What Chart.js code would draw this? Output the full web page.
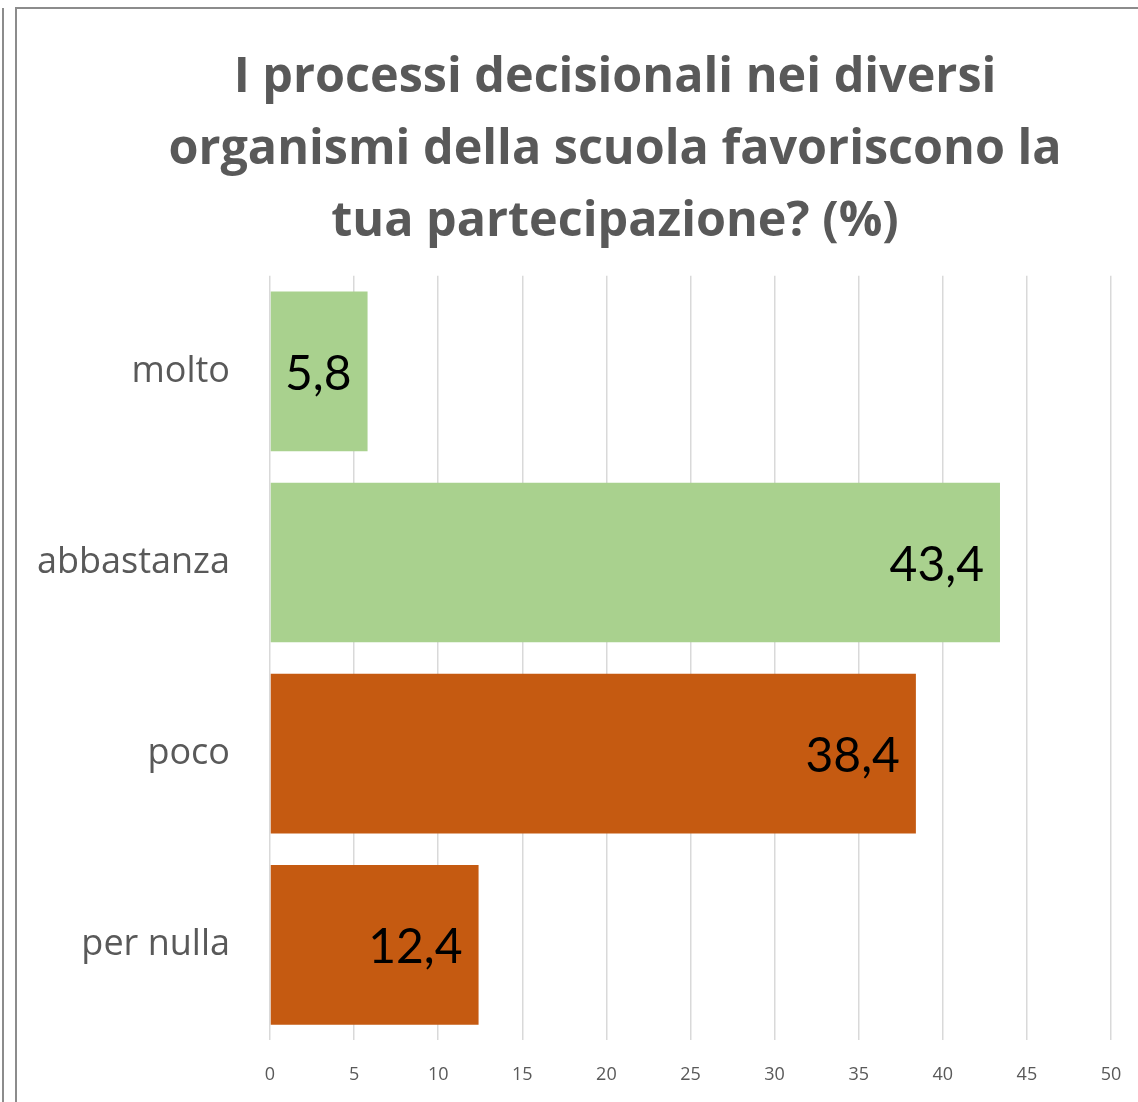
<!DOCTYPE html>
<html>
<head>
<meta charset="utf-8">
<script src="https://cdn.jsdelivr.net/npm/chart.js@4/dist/chart.umd.min.js"></script>
<style>
  html, body { margin: 0; padding: 0; width: 1138px; height: 1102px; overflow: hidden; background: #fff; }
  .edge { position: absolute; left: 2px; top: 8px; width: 2px; height: 1200px; background: #8c8c8c; }
  .box { position: absolute; left: 15px; top: 7px; width: 1300px; height: 1300px; border: 2px solid #8c8c8c; }
  .wrap { position: absolute; left: 18px; top: 10px; width: 1194px; height: 1092px; }
  canvas { display: block; }
</style>
</head>
<body>
<div class="edge"></div>
<div class="box"></div>
<div class="wrap"><canvas id="chart" width="1194" height="1092"></canvas></div>
<script>
  // values (percent)
  const categories = ['molto', 'abbastanza', 'poco', 'per nulla'];
  const values = [5.8, 43.4, 38.4, 12.4];
  const barColors = ['#a9d18e', '#a9d18e', '#c55a11', '#c55a11'];
  const titleLines = ['I processi decisionali nei diversi', 'organismi della scuola favoriscono la', 'tua partecipazione? (%)'];
  const xTicks = [0, 5, 10, 15, 20, 25, 30, 35, 40, 45, 50];

  const GREY = '#595959';
  const fmtIt = (v) => v.toFixed(1).replace('.', ',');

  // value labels at the inside end of each bar (no datalabels plugin here)
  const insideEndLabels = {
    id: 'insideEndLabels',
    afterDatasetsDraw(chart) {
      const { ctx } = chart;
      const meta = chart.getDatasetMeta(0);
      ctx.save();
      ctx.font = '48px Lato, "Open Sans", sans-serif';
      ctx.fillStyle = '#000';
      ctx.textAlign = 'right';
      ctx.textBaseline = 'middle';
      meta.data.forEach((bar, i) => {
        ctx.fillText(fmtIt(values[i]), bar.x - 16, bar.y + 3);
      });
      ctx.restore();
    },
  };

  new Chart(document.getElementById('chart'), {
    type: 'bar',
    data: {
      labels: categories,
      datasets: [{
        data: values,
        backgroundColor: barColors,
        borderWidth: 0,
        barPercentage: 0.835,
        categoryPercentage: 1,
      }],
    },
    options: {
      indexAxis: 'y',
      responsive: false,
      animation: false,
      devicePixelRatio: 1,
      layout: { padding: 0 },
      plugins: {
        legend: { display: false },
        tooltip: { enabled: false },
        title: {
          display: true,
          text: titleLines,
          color: GREY,
          font: { family: '"Open Sans", sans-serif', size: 48.5, weight: 'bold', lineHeight: 1.49 },
          padding: { top: 32, bottom: 17 },
        },
      },
      scales: {
        x: {
          min: 0, max: 50,
          afterBuildTicks: (s) => { s.ticks = xTicks.map(v => ({ value: v })); },
          afterFit: (s) => { s.height = 60; },
          grid: { color: '#d9d9d9', lineWidth: 1.5, drawTicks: false },
          border: { display: false },
          ticks: { color: GREY, padding: 24, font: { family: '"Open Sans", sans-serif', size: 18 } },
        },
        y: {
          afterFit: (s) => { s.width = 252; },
          grid: { display: false, drawTicks: false },
          border: { display: false },
          ticks: { color: GREY, padding: 40, font: { family: '"Open Sans", sans-serif', size: 36 } },
        },
        // empty right-hand spacer: the chart box runs past the picture's right edge
        spacer: {
          type: 'category', labels: categories, position: 'right',
          afterFit: (s) => { s.width = 101; },
          grid: { display: false, drawTicks: false },
          border: { display: false },
          ticks: { display: false },
        },
      },
    },
    plugins: [insideEndLabels],
  });
</script>
</body>
</html>
